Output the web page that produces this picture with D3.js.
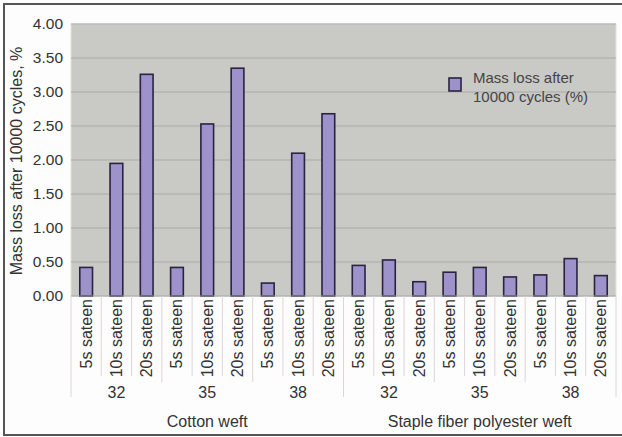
<!DOCTYPE html>
<html><head><meta charset="utf-8">
<script src="https://cdn.jsdelivr.net/npm/d3@7/dist/d3.min.js"></script>
<style>html,body{margin:0;padding:0;background:#fff;}svg{display:block;font-family:Arial,"Liberation Sans",sans-serif;}</style>
</head><body><svg id="c" width="622" height="437"></svg>
<script>
const weftTypes = ["Cotton weft", "Staple fiber polyester weft"];
const densities = ["32", "35", "38"];
const weaves = ["5s sateen", "10s sateen", "20s sateen"];
const massLoss = [0.42, 1.95, 3.26, 0.42, 2.53, 3.35, 0.19, 2.10, 2.68,
                  0.45, 0.53, 0.21, 0.35, 0.42, 0.28, 0.31, 0.55, 0.30];
const yTicks = [0, 0.5, 1, 1.5, 2, 2.5, 3, 3.5, 4];
const seriesName = ["Mass loss after", "10000 cycles (%)"];
const yTitle = "Mass loss after 10000 cycles, %";

const cats = [];
weftTypes.forEach((w, wi) => densities.forEach((d, di) => weaves.forEach((v, vi) => {
  cats.push({id: wi + "|" + di + "|" + vi, weft: w, dens: d, weave: v, wi, di, vi});
})));
cats.forEach((c, i) => c.value = massLoss[i]);

const svg = d3.select("#c");
const L = 71, R = 616, T = 24, B = 296;

// outer frame (top, left, bottom only)
svg.append("rect").attr("x", 4).attr("y", 4).attr("width", 618).attr("height", 431).attr("fill", "#fdfdfd");
svg.append("path").attr("d", "M622,4H4V435H622").attr("fill", "none")
  .attr("stroke", "#555").attr("stroke-width", 2);

const x = d3.scaleBand().domain(cats.map(c => c.id)).range([L, R]).paddingInner(0).paddingOuter(0);
const y = d3.scaleLinear().domain([0, 4]).range([B, T]);

// plot area
svg.append("rect").attr("x", L).attr("y", T).attr("width", R - L).attr("height", B - T)
  .attr("fill", "#c9c9c5").attr("stroke", "#e2e2e0").attr("stroke-width", 1);

// gridlines
svg.append("g").selectAll("line").data(yTicks.filter(t => t > 0)).join("line")
  .attr("x1", L).attr("x2", R).attr("y1", d => y(d)).attr("y2", d => y(d))
  .attr("stroke", "#a9a9a5").attr("stroke-width", 1);

// y axis
const ya = svg.append("g").attr("transform", `translate(${L},0)`)
  .call(d3.axisLeft(y).tickValues(yTicks).tickFormat(d3.format(".2f")).tickSize(0).tickPadding(8));
ya.select(".domain").remove();
ya.selectAll("text").attr("font-size", 15.5).attr("fill", "#333").attr("font-family", "Arial, 'Liberation Sans', sans-serif");

svg.append("text").attr("transform", `translate(22,${(T + B) / 2 + 1}) rotate(-90)`)
  .attr("text-anchor", "middle").attr("font-size", 16).attr("fill", "#333").text(yTitle);

// bars
const bw = x.bandwidth() * 0.42;
svg.append("g").selectAll("rect").data(cats).join("rect")
  .attr("x", d => x(d.id) + (x.bandwidth() - bw) / 2)
  .attr("y", d => y(d.value))
  .attr("width", bw)
  .attr("height", d => y(0) - y(d.value))
  .attr("fill", "#9d92c9").attr("stroke", "#2a2440").attr("stroke-width", 1.6);

// zero line
svg.append("line").attr("x1", L).attr("x2", R).attr("y1", B).attr("y2", B)
  .attr("stroke", "#9a9a96").attr("stroke-width", 1);

// category separators
const sep = svg.append("g").attr("stroke", "#ddd6d4").attr("stroke-width", 1);
const bws = x.bandwidth();
for (let i = 0; i <= cats.length; i++) {
  const xx = L + i * bws;
  let y2 = 376;
  if (i % 9 === 0) y2 = 397;
  else if (i % 3 === 0) y2 = 382;
  sep.append("line").attr("x1", xx).attr("x2", xx).attr("y1", B).attr("y2", y2);
}

// level 1 labels
svg.append("g").selectAll("text").data(cats).join("text")
  .attr("transform", d => `translate(${x(d.id) + bws / 2 + 5.5},${B + 3}) rotate(-90)`)
  .attr("text-anchor", "end").attr("font-size", 16).attr("fill", "#333").text(d => d.weave);

// level 2 labels
const groups2 = [];
weftTypes.forEach((w, wi) => densities.forEach((d, di) => groups2.push({wi, di, label: d})));
svg.append("g").selectAll("text").data(groups2).join("text")
  .attr("x", d => x(d.wi + "|" + d.di + "|1") + bws / 2)
  .attr("y", 398).attr("text-anchor", "middle").attr("font-size", 16).attr("fill", "#333")
  .text(d => d.label);

// level 3 labels
svg.append("g").selectAll("text").data(weftTypes).join("text")
  .attr("x", (d, i) => (x(i + "|0|0") + x(i + "|2|2") + bws) / 2)
  .attr("y", 427).attr("text-anchor", "middle").attr("font-size", 16).attr("fill", "#333")
  .text(d => d);

// legend
const lg = svg.append("g");
lg.append("rect").attr("x", 449).attr("y", 78).attr("width", 12).attr("height", 13)
  .attr("fill", "#9d92c9").attr("stroke", "#2a2440").attr("stroke-width", 1.6);
lg.selectAll("text").data(seriesName).join("text")
  .attr("x", 473).attr("y", (d, i) => 83 + i * 18.5)
  .attr("font-size", 15).attr("fill", "#444").text(d => d);
</script></body></html>
